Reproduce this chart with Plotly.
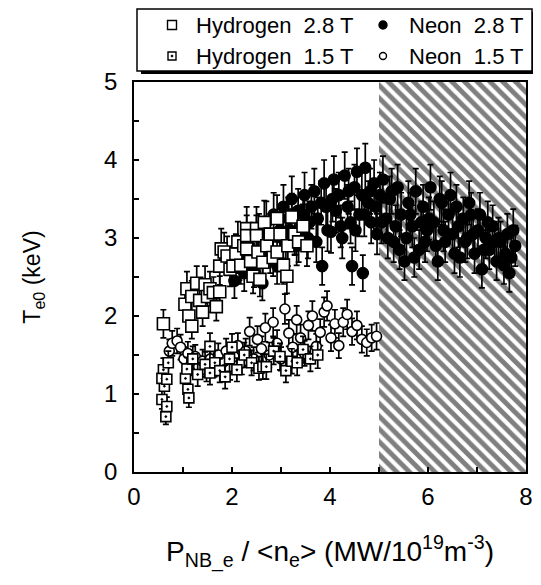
import plotly.graph_objects as go

# ---- data: (x, Te0, error) triples ----
hydrogen_28 = [
    (0.60, 1.90, 0.18), (1.04, 2.15, 0.20), (1.08, 2.35, 0.22), (1.12, 2.00, 0.18), (1.18, 2.25, 0.20),
    (1.18, 1.87, 0.16), (1.28, 2.42, 0.22), (1.34, 2.20, 0.20), (1.40, 2.05, 0.18), (1.45, 2.40, 0.24),
    (1.50, 2.25, 0.20), (1.55, 2.35, 0.22), (1.62, 2.30, 0.20), (1.68, 2.12, 0.18), (1.75, 2.31, 0.20),
    (1.75, 2.64, 0.24), (1.78, 2.86, 0.26), (1.84, 2.82, 0.25), (1.90, 2.77, 0.25), (1.96, 2.60, 0.22),
    (2.02, 2.64, 0.24), (2.08, 2.80, 0.25), (2.12, 2.95, 0.26), (2.18, 2.65, 0.24), (2.24, 2.90, 0.25),
    (2.30, 3.12, 0.28), (2.30, 2.86, 0.25), (2.30, 3.03, 0.26), (2.38, 2.70, 0.24), (2.43, 2.51, 0.22),
    (2.50, 3.12, 0.28), (2.50, 3.03, 0.26), (2.53, 2.82, 0.25), (2.57, 2.47, 0.22), (2.63, 2.69, 0.24),
    (2.66, 3.20, 0.28), (2.71, 2.90, 0.26), (2.78, 3.05, 0.26), (2.84, 2.75, 0.24), (2.92, 3.25, 0.30),
    (2.92, 2.82, 0.25), (2.98, 3.05, 0.27), (3.05, 2.65, 0.24), (3.12, 2.51, 0.22), (3.14, 2.90, 0.26),
    (3.22, 3.27, 0.30), (3.28, 3.05, 0.27), (3.36, 2.95, 0.26), (3.45, 3.15, 0.28), (3.53, 2.90, 0.26),
]

hydrogen_15 = [
    (0.57, 0.93, 0.12), (0.60, 1.31, 0.15), (0.62, 1.10, 0.14), (0.65, 0.71, 0.10), (0.67, 0.84, 0.12),
    (0.57, 1.20, 0.14), (0.67, 1.19, 0.14), (0.70, 1.40, 0.15), (1.05, 1.20, 0.14), (1.10, 1.06, 0.13),
    (1.12, 0.95, 0.12), (1.08, 1.32, 0.15), (1.20, 1.45, 0.16), (1.30, 1.25, 0.15), (1.45, 1.38, 0.16),
    (1.55, 1.27, 0.15), (1.55, 1.61, 0.17), (1.65, 1.40, 0.16), (1.75, 1.30, 0.15), (1.86, 1.22, 0.15),
    (1.95, 1.45, 0.16), (2.00, 1.60, 0.17), (2.10, 1.31, 0.15), (2.25, 1.50, 0.16), (2.40, 1.40, 0.16),
    (2.55, 1.33, 0.15), (2.63, 1.35, 0.16), (2.70, 1.35, 0.16), (2.85, 1.55, 0.17), (2.98, 1.48, 0.17),
    (3.10, 1.30, 0.15), (3.22, 1.42, 0.16), (3.33, 1.40, 0.16), (3.45, 1.57, 0.17), (3.60, 1.45, 0.16),
    (3.75, 1.50, 0.17),
]

neon_15 = [
    (0.72, 1.55, 0.15), (0.78, 1.65, 0.16), (0.88, 1.68, 0.16), (0.95, 1.60, 0.16), (1.02, 1.45, 0.15),
    (1.10, 1.52, 0.15), (1.18, 1.38, 0.14), (1.25, 1.48, 0.15), (1.32, 1.35, 0.14), (1.40, 1.42, 0.15),
    (1.48, 1.30, 0.14), (1.56, 1.45, 0.15), (1.64, 1.36, 0.14), (1.72, 1.50, 0.15), (1.80, 1.40, 0.15),
    (1.88, 1.55, 0.16), (1.96, 1.32, 0.14), (2.04, 1.48, 0.15), (2.12, 1.62, 0.16), (2.20, 1.40, 0.15),
    (2.28, 1.55, 0.16), (2.36, 1.80, 0.18), (2.44, 1.45, 0.15), (2.52, 1.70, 0.17), (2.60, 1.58, 0.16),
    (2.68, 1.85, 0.18), (2.76, 1.50, 0.16), (2.84, 1.92, 0.18), (2.92, 1.65, 0.17), (3.00, 1.45, 0.15),
    (3.08, 2.09, 0.19), (3.16, 1.78, 0.17), (3.24, 1.60, 0.16), (3.32, 1.95, 0.18), (3.40, 1.72, 0.17),
    (3.48, 1.52, 0.16), (3.56, 1.88, 0.18), (3.64, 2.00, 0.19), (3.72, 1.61, 0.16), (3.80, 1.79, 0.17),
    (3.88, 2.05, 0.19), (3.94, 2.13, 0.19), (4.02, 1.72, 0.17), (4.10, 1.90, 0.18), (4.18, 1.62, 0.16),
    (4.27, 1.92, 0.18), (4.35, 2.02, 0.19), (4.45, 1.80, 0.17), (4.55, 1.88, 0.18), (4.65, 1.70, 0.17),
    (4.75, 1.66, 0.17), (4.85, 1.72, 0.17), (4.95, 1.74, 0.17),
]

neon_28 = [
    (2.05, 2.45, 0.22), (2.15, 2.70, 0.24), (2.25, 2.55, 0.23), (2.35, 2.90, 0.25), (2.45, 2.60, 0.23),
    (2.55, 3.05, 0.26), (2.62, 2.42, 0.22), (2.70, 3.20, 0.27), (2.78, 2.80, 0.25), (2.85, 3.30, 0.28),
    (2.92, 2.65, 0.24), (2.98, 3.10, 0.27), (3.02, 3.00, 0.26), (3.05, 3.40, 0.28), (3.10, 2.95, 0.26),
    (3.15, 3.25, 0.27), (3.18, 3.10, 0.27), (3.22, 3.50, 0.29), (3.28, 3.05, 0.26), (3.32, 2.90, 0.25),
    (3.35, 3.35, 0.28), (3.42, 3.15, 0.27), (3.45, 3.30, 0.28), (3.48, 3.55, 0.29), (3.55, 3.00, 0.26),
    (3.58, 3.20, 0.27), (3.62, 3.40, 0.28), (3.68, 3.60, 0.29), (3.72, 2.95, 0.26), (3.75, 3.25, 0.27),
    (3.82, 3.45, 0.28), (3.84, 2.64, 0.24), (3.88, 3.70, 0.30), (3.92, 3.40, 0.28), (3.95, 3.10, 0.27),
    (4.02, 3.08, 0.27), (4.05, 3.50, 0.29), (4.08, 3.75, 0.30), (4.12, 3.35, 0.28), (4.18, 3.55, 0.29),
    (4.22, 3.15, 0.27), (4.25, 3.00, 0.26), (4.30, 3.80, 0.30), (4.36, 3.40, 0.28), (4.38, 3.60, 0.29),
    (4.42, 3.20, 0.27), (4.45, 2.64, 0.24), (4.50, 3.65, 0.29), (4.52, 3.10, 0.27), (4.55, 3.85, 0.30),
    (4.60, 3.30, 0.28), (4.65, 3.55, 0.29), (4.67, 2.55, 0.23), (4.70, 3.30, 0.28), (4.72, 3.90, 0.31),
    (4.78, 3.45, 0.28), (4.82, 3.60, 0.29), (4.84, 3.20, 0.27), (4.90, 3.70, 0.30), (4.94, 3.40, 0.28),
    (4.96, 3.05, 0.26), (5.02, 3.55, 0.29), (5.05, 3.20, 0.27), (5.08, 3.75, 0.30), (5.15, 3.25, 0.27),
    (5.18, 3.00, 0.26), (5.22, 3.50, 0.29), (5.26, 3.60, 0.29), (5.30, 2.95, 0.26), (5.34, 3.15, 0.27),
    (5.38, 3.65, 0.29), (5.42, 2.85, 0.25), (5.45, 3.30, 0.28), (5.52, 2.70, 0.24), (5.56, 3.00, 0.26),
    (5.60, 3.45, 0.28), (5.64, 3.30, 0.28), (5.68, 3.15, 0.27), (5.72, 2.75, 0.25), (5.75, 3.60, 0.29),
    (5.82, 2.85, 0.25), (5.86, 3.20, 0.27), (5.90, 3.40, 0.28), (5.94, 2.95, 0.26), (5.98, 3.10, 0.27),
    (6.02, 3.25, 0.27), (6.05, 3.65, 0.29), (6.12, 3.20, 0.27), (6.16, 2.90, 0.25), (6.20, 2.70, 0.24),
    (6.24, 3.50, 0.29), (6.28, 3.45, 0.28), (6.32, 3.10, 0.27), (6.35, 2.95, 0.26), (6.42, 3.30, 0.28),
    (6.46, 3.55, 0.29), (6.50, 3.05, 0.26), (6.54, 2.80, 0.25), (6.58, 3.40, 0.28), (6.62, 3.15, 0.27),
    (6.65, 2.75, 0.25), (6.72, 3.25, 0.27), (6.76, 2.95, 0.26), (6.80, 3.00, 0.26), (6.84, 3.45, 0.28),
    (6.88, 3.30, 0.28), (6.92, 3.05, 0.26), (6.95, 2.80, 0.25), (7.02, 3.10, 0.27), (7.06, 3.30, 0.28),
    (7.10, 2.60, 0.24), (7.14, 2.85, 0.25), (7.18, 3.00, 0.26), (7.22, 3.20, 0.27), (7.25, 2.85, 0.25),
    (7.32, 3.15, 0.27), (7.36, 2.95, 0.26), (7.40, 2.70, 0.24), (7.44, 3.00, 0.26), (7.48, 2.95, 0.26),
    (7.55, 2.65, 0.24), (7.58, 2.80, 0.25), (7.62, 3.05, 0.26), (7.66, 2.55, 0.24), (7.70, 2.75, 0.25),
    (7.74, 3.10, 0.27), (7.78, 2.90, 0.26),
]

hatch_x = [5, 8, 8, 5, 5]
hatch_y = [0, 0, 5, 5, 0]

legend_labels = ["Hydrogen\u00a0\u00a02.8 T", "Hydrogen\u00a0\u00a01.5 T",
                 "Neon\u00a0\u00a02.8 T", "Neon\u00a0\u00a01.5 T"]

FONT = "Liberation Sans, Arial, Helvetica, sans-serif"

# The page body adds an 8 px offset, so the figure is 8 px smaller than the window
OFF = 8
W, H = 541 - OFF, 585 - OFF
ML, MR, MT, MB = 134 - OFF, 15, 82 - OFF, 113
PW, PH = W - ML - MR, H - MT - MB


def px(xp):
    """window pixel x -> paper x"""
    return (xp - OFF - ML) / PW


def py(yp):
    """window pixel y -> paper y"""
    return (H - MB - (yp - OFF)) / PH


def unzip(rows):
    return [r[0] for r in rows], [r[1] for r in rows], [r[2] for r in rows]


fig = go.Figure()

fig.add_trace(go.Scatter(
    x=hatch_x, y=hatch_y, mode="lines", fill="toself", showlegend=False,
    hoverinfo="skip", line=dict(width=0, color="black"),
    fillcolor="white",
    fillpattern=dict(shape="\\", fgcolor="black", bgcolor="white", size=9, solidity=0.55),
))


def add_series(rows, name, symbol, size, fill):
    x, y, e = unzip(rows)
    fig.add_trace(go.Scatter(
        x=x, y=y, mode="markers", name=name, showlegend=False,
        error_y=dict(type="data", array=e, visible=True, color="black", thickness=1.7, width=3),
        marker=dict(symbol=symbol, size=size, color=fill, line=dict(color="black", width=1.6)),
    ))


add_series(neon_28, legend_labels[2], "circle", 11, "black")
add_series(hydrogen_28, legend_labels[0], "square", 12, "white")
add_series(neon_15, legend_labels[3], "circle", 10, "white")
add_series(hydrogen_15, legend_labels[1], "square-dot", 10, "white")

axis_common = dict(
    showline=True, linecolor="black", linewidth=1.5, mirror=True,
    ticks="inside", ticklen=5, tickwidth=1.5, tickcolor="black",
    showgrid=False, zeroline=False, automargin=False,
    tickfont=dict(family=FONT, size=24, color="black"),
)

fig.update_xaxes(
    range=[0, 8], dtick=2, tick0=0,
    minor=dict(dtick=1, ticks="inside", ticklen=5, tickwidth=1.5, tickcolor="black"),
    title=dict(text="P<sub>NB_e</sub> / &lt;n<sub>e</sub>&gt; (MW/10<sup>19</sup>m<sup>-3</sup>)",
               font=dict(family=FONT, size=28, color="black"), standoff=33),
    ticklabelstandoff=2,
    **axis_common,
)
fig.update_yaxes(
    range=[0, 5], dtick=1, tick0=0,
    minor=dict(dtick=0.5, ticks="inside", ticklen=5, tickwidth=1.5, tickcolor="black"),
    title=dict(text="T<sub>e0</sub> (keV)", font=dict(family=FONT, size=23, color="black"), standoff=57),
    ticklabelstandoff=10,
    **axis_common,
)

# ---- hand-built legend box (two columns) ----
box_l, box_r, box_t, box_b = 137, 532, 9, 71
shapes = [
    dict(type="rect", xref="paper", yref="paper", x0=px(box_l), x1=px(box_r), y0=py(box_b), y1=py(box_t),
         line=dict(color="black", width=1.5), fillcolor="white", layer="above"),
    dict(type="line", xref="paper", yref="paper", x0=px(box_r + 1.5), x1=px(box_r + 1.5),
         y0=py(box_b + 2), y1=py(box_t + 3), line=dict(color="black", width=3)),
    dict(type="line", xref="paper", yref="paper", x0=px(box_l + 4), x1=px(box_r + 3),
         y0=py(box_b + 1.5), y1=py(box_b + 1.5), line=dict(color="black", width=3)),
]
row_y = [25, 56]
sym_x = [172, 383]
txt_x = [194, 407]


def sym_shape(kind, cx, cy, size, fill, line_w=1.4):
    return dict(type=kind, xref="paper", yref="paper", xsizemode="pixel", ysizemode="pixel",
                xanchor=px(cx), yanchor=py(cy),
                x0=-size / 2, x1=size / 2, y0=-size / 2, y1=size / 2,
                fillcolor=fill, line=dict(color="black", width=line_w), layer="above")


shapes.append(sym_shape("rect", sym_x[0], row_y[0], 9, "white"))
shapes.append(sym_shape("rect", sym_x[0], row_y[1], 8, "white"))
shapes.append(sym_shape("circle", sym_x[0], row_y[1], 2, "black", 0.8))
shapes.append(sym_shape("circle", sym_x[1], row_y[0], 8, "black"))
shapes.append(sym_shape("circle", sym_x[1], row_y[1], 7, "white"))

annotations = []
for i, (col, row) in enumerate([(0, 0), (0, 1), (1, 0), (1, 1)]):
    annotations.append(dict(
        text=legend_labels[i], xref="paper", yref="paper", x=px(txt_x[col]), y=py(row_y[row]),
        xanchor="left", yanchor="middle", showarrow=False,
        font=dict(family=FONT, size=22, color="black"),
    ))

fig.update_layout(
    width=W, height=H,
    margin=dict(l=ML, r=MR, t=MT, b=MB),
    paper_bgcolor="white", plot_bgcolor="white",
    font=dict(family=FONT, color="black"),
    showlegend=False,
    shapes=shapes,
    annotations=annotations,
)

fig.write_html("out.html")
